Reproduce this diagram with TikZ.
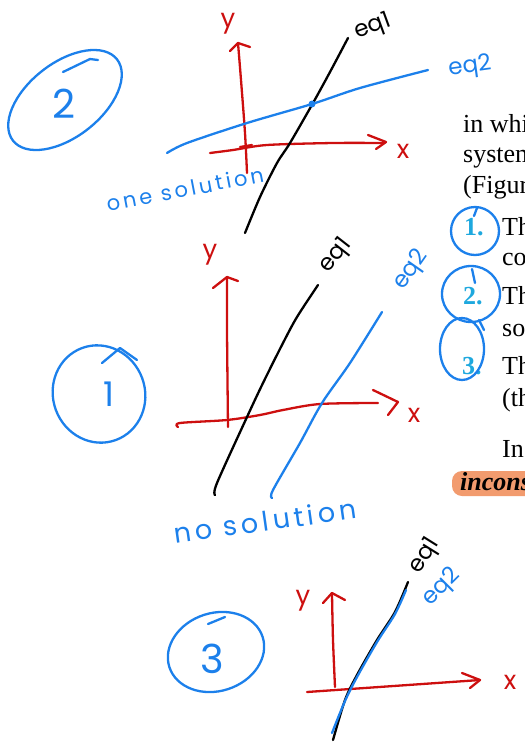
\documentclass[tikz,border=0pt]{standalone}
\usepackage{fontspec}
\setmainfont{Liberation Serif}
\newfontfamily\handfont{Poppins}
\newfontfamily\handwide[LetterSpace=15]{Poppins}
\usepackage{tikz}

\definecolor{penblue}{RGB}{28,128,235}
\definecolor{penred}{RGB}{205,15,15}
\definecolor{numcyan}{RGB}{30,168,222}
\definecolor{marker}{RGB}{242,155,110}

\tikzset{
  pen/.style={line width=2.3pt, line cap=round, line join=round},
  axis/.style={pen, penred},
  eqone/.style={pen, black},
  eqtwo/.style={pen, penblue},
  ring/.style={pen, penblue},
  hand/.style={font=\handfont\fontsize{23}{23}\selectfont, inner sep=0pt},
  axlabel/.style={font=\handfont\fontsize{26}{26}\selectfont, inner sep=0pt, penred},
  bignum/.style={font=\handfont\fontsize{40}{40}\selectfont, inner sep=0pt, penblue},
  pagetext/.style={font=\fontsize{26}{26}\selectfont, anchor=base west, inner sep=0pt},
  pagenum/.style={font=\bfseries\fontsize{26}{26}\selectfont, anchor=base west, inner sep=0pt, numcyan},
}

\begin{document}
\begin{tikzpicture}[x=1pt,y=-1pt]
\useasboundingbox (0,0) rectangle (525,753);
\clip (0,0) rectangle (525,753);

%%% printed page, right edge
\fill [marker, rounded corners=10pt] (452,471) rectangle (545,496);

\node [pagetext] (lineA) at (463,132) {in whi};
\node [pagetext] (lineB) at (463,162) {system};
\node [pagetext] (lineC) at (463,193) {(Figur};
\node [pagenum]  (numA)  at (464,235) {1.};
\node [pagetext] (lineD) at (502,235) {Th};
\node [pagetext] (lineE) at (502,265) {co};
\node [pagenum]  (numB)  at (463,304) {2.};
\node [pagetext] (lineF) at (502,304) {Th};
\node [pagetext] (lineG) at (502,336) {so};
\node [pagenum]  (numC)  at (462,374) {3.};
\node [pagetext] (lineH) at (502,374) {Th};
\node [pagetext] (lineI) at (502,406) {(th};
\node [pagetext] (lineJ) at (502,457) {In};
\node [pagetext, font=\bfseries\itshape\fontsize{26}{26}\selectfont] (lineK) at (460,490) {incons};

% rings round the numbers
\draw [ring] (475,231) ellipse [x radius=24, y radius=24];
\draw [ring] (474,216) -- (477,208);                     % loop
\draw [ring] (471,294) ellipse [x radius=29, y radius=28];
\draw [ring] (475,283) -- (472,269);                     % loop
\draw [ring] (462,349) ellipse [x radius=22, y radius=31];
\draw [ring] (479,320) -- (484,330);                     % loop

%%% case 2 : one solution
\draw [ring, rotate around={38:(65,100)}] (65,100) ellipse [x radius=66, y radius=37];
\draw [ring] (63,72) -- (90,59) -- (98,60);
\node [bignum] (numTwo) at (64,104) {2};

% axes
\draw [axis] plot [smooth] coordinates {(247,173) (245,133) (241,80) (238,43)};
\draw [axis] (230,51) -- (238,43) -- (250,47);            % y tip
\draw [axis] plot [smooth] coordinates {(210,153) (233,150) (267,145) (333,143) (384,143)};
\draw [axis] (368,135) -- (386,142) -- (376,149);          % x tip
\draw [axis] (240,147) -- (252,145);
\node [axlabel] (yTwo) at (228,24) {y};
\node [axlabel] (xTwo) at (403,151) {x};

% lines
\draw [eqone] plot [smooth] coordinates {(245,233) (260,197) (277,163) (290,143) (313,103) (330,72) (348,38)};
\draw [eqtwo] plot [smooth] coordinates {(167,153) (187,143) (247,123) (312,104) (360,88) (428,70)};
\fill [penblue] (312,104) circle [radius=3.5pt];
\node [hand, rotate=20] (eqOneTwo) at (373,27) {eq1};
\node [hand, penblue, rotate=8] (eqTwoTwo) at (470,67) {eq2};
\node [hand, penblue, font=\handwide\fontsize{21}{21}\selectfont, rotate=11] (oneSol) at (185,189) {one solution};

%%% case 1 : no solution
\draw [ring, rotate around={20:(99,394)}] (99,394) ellipse [x radius=46, y radius=49];
\draw [ring] (102,363) -- (120,348) -- (137,360);
\node [bignum, font=\handfont\fontsize{34}{34}\selectfont] (numOne) at (109,394) {1};

% axes
\draw [axis] plot [smooth] coordinates {(228,427) (227,330) (227,278)};
\draw [axis] (213,288) -- (227,277) -- (238,281);          % y tip
\draw [axis] plot [smooth] coordinates {(178,427) (180,423) (227,420) (260,415) (283,410) (320,404) (378,403)};
\draw [axis] (373,390) -- (398,402) -- (388,415);          % x tip
\node [axlabel] (yOne) at (210,255) {y};
\node [axlabel] (xOne) at (414,415) {x};

% lines
\draw [eqone] plot [smooth] coordinates {(215,495) (217,483) (247,417) (263,383) (283,343) (297,317) (318,285)};
\draw [eqtwo] plot [smooth] coordinates {(272,498) (273,490) (300,443) (322,403) (350,363) (382,312)};
\node [hand, rotate=52] (eqOneOne) at (336,256) {eq1};
\node [hand, penblue, rotate=55] (eqTwoOne) at (411,270) {eq2};
\node [hand, penblue, font=\handwide\fontsize{27}{27}\selectfont, rotate=8] (noSol) at (265,521) {no solution};

%%% case 3 : infinitely many
\draw [ring, rotate around={18:(216,652)}] (216,652) ellipse [x radius=49, y radius=39];
\draw [ring] (208,624) -- (225,617);
\node [bignum] (numThree) at (212,659) {3};

% axes
\draw [axis] plot [smooth] coordinates {(335,687) (333,640) (332,594)};
\draw [axis] (323,603) -- (332,593) -- (345,600);          % y tip
\draw [axis] (307,692) -- (480,680);
\draw [axis] (462,673) -- (480,680) -- (470,688);          % x tip
\node [axlabel] (yThree) at (303,601) {y};
\node [axlabel] (xThree) at (510,682) {x};

% lines
\draw [eqone] plot [smooth] coordinates {(333,740) (345,700) (357,675) (377,640) (395,612) (408,582)};
\draw [eqtwo] plot [smooth] coordinates {(332,733) (345,701) (357,677) (377,642) (395,614) (406,590)};
\node [hand, rotate=58] (eqOneThree) at (425,556) {eq1};
\node [hand, penblue, rotate=45] (eqTwoThree) at (442,587) {eq2};
\end{tikzpicture}
\end{document}
